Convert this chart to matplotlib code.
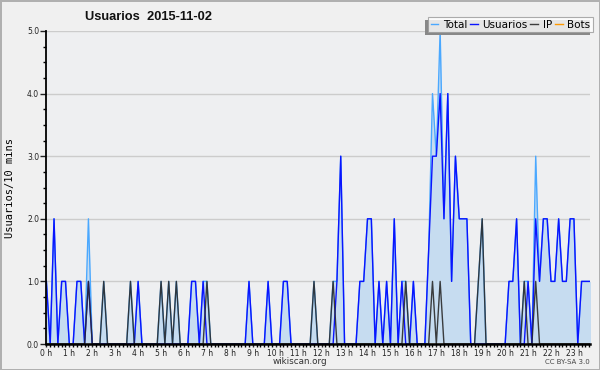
import numpy as np
import matplotlib
matplotlib.use("Agg")
import matplotlib.pyplot as plt
from matplotlib.patches import Rectangle
from matplotlib.ticker import MultipleLocator, FixedLocator

# 10-minute slots, 2015-11-02 (144 points)
usuarios = [1, 0, 2, 0, 1, 1, 0, 0, 1, 1, 0, 1, 0, 0, 0, 0, 0, 0, 0, 0, 0, 0, 0, 0,
            1, 0, 0, 0, 0, 0, 0, 0, 0, 0, 0, 0, 0, 0, 1, 1, 0, 1, 0, 0, 0, 0, 0, 0,
            0, 0, 0, 0, 0, 1, 0, 0, 0, 0, 1, 0, 0, 0, 1, 1, 0, 0, 0, 0, 0, 0, 0, 0,
            0, 0, 0, 0, 1, 3, 0, 0, 0, 0, 1, 1, 2, 2, 0, 1, 0, 1, 0, 2, 0, 1, 0, 0,
            1, 0, 0, 0, 1.5, 3, 3, 4, 2, 4, 1, 3, 2, 2, 2, 0, 0, 0, 0, 0, 0, 0, 0, 0,
            0, 1, 1, 2, 0, 0, 1, 0, 2, 1, 2, 2, 1, 1, 2, 1, 1, 2, 2, 0, 1, 1, 1, 1]
ip = [0, 0, 0, 0, 0, 0, 0, 0, 0, 0, 0, 1, 0, 0, 0, 1, 0, 0, 0, 0, 0, 0, 1, 0,
      0, 0, 0, 0, 0, 0, 1, 0, 1, 0, 1, 0, 0, 0, 0, 0, 0, 0, 1, 0, 0, 0, 0, 0,
      0, 0, 0, 0, 0, 0, 0, 0, 0, 0, 0, 0, 0, 0, 0, 0, 0, 0, 0, 0, 0, 0, 1, 0,
      0, 0, 0, 1, 0, 0, 0, 0, 0, 0, 0, 0, 0, 0, 0, 0, 0, 0, 0, 0, 0, 0, 1, 0,
      0, 0, 0, 0, 0, 1, 0, 1, 0, 0, 0, 0, 0, 0, 0, 0, 0, 1, 2, 0, 0, 0, 0, 0,
      0, 0, 0, 0, 0, 1, 0, 0, 1, 0, 0, 0, 0, 0, 0, 0, 0, 0, 0, 0, 0, 0, 0, 0]
total = [1, 0, 2, 0, 1, 1, 0, 0, 1, 1, 0, 2, 0, 0, 0, 1, 0, 0, 0, 0, 0, 0, 1, 0,
         1, 0, 0, 0, 0, 0, 1, 0, 1, 0, 1, 0, 0, 0, 1, 1, 0, 1, 1, 0, 0, 0, 0, 0,
         0, 0, 0, 0, 0, 1, 0, 0, 0, 0, 1, 0, 0, 0, 1, 1, 0, 0, 0, 0, 0, 0, 1, 0,
         0, 0, 0, 1, 1, 3, 0, 0, 0, 0, 1, 1, 2, 2, 0, 1, 0, 1, 0, 2, 0, 1, 1, 0,
         1, 0, 0, 0, 1.5, 4, 3, 5, 2, 4, 1, 3, 2, 2, 2, 0, 0, 1, 2, 0, 0, 0, 0, 0,
         0, 1, 1, 2, 0, 1, 1, 0, 3, 1, 2, 2, 1, 1, 2, 1, 1, 2, 2, 0, 1, 1, 1, 1]
bots = [0] * 144
hour_labels = [f"{h} h" for h in range(24)]
y_labels = ["0.0", "1.0", "2.0", "3.0", "4.0", "5.0"]

W, H = 600, 370
fig = plt.figure(figsize=(W / 100, H / 100), dpi=100)
fig.patch.set_facecolor("#f0f0f0")
fig.patch.set_edgecolor("#b0b0b0")
fig.patch.set_linewidth(1.0)

ax = fig.add_axes([46 / W, 1 - 344 / H, 544 / W, 313 / H])
ax.set_facecolor("#eeeff1")

x = np.arange(len(total))
ax.fill_between(x, total, color="#c6dcf0", linewidth=0, zorder=2)
ax.plot(x, bots, color="#ff9900", lw=1.0, zorder=2.5)
ax.plot(x, total, color="#4aa8ff", lw=1.0, zorder=3, label="Total")
ax.plot(x, usuarios, color="#0a14ff", lw=1.0, zorder=4, label="Usuarios")
ax.plot(x, ip, color="#2a2a2a", lw=1.0, zorder=5, alpha=0.9, label="IP")
ax.plot([], [], color="#ff9900", lw=1.0, label="Bots")

ax.set_xlim(-0.1, 142.2)
ax.set_ylim(0, 5)

ax.yaxis.set_major_locator(FixedLocator(range(len(y_labels))))
ax.set_yticklabels(y_labels)
ax.yaxis.set_minor_locator(MultipleLocator(0.25))
ax.xaxis.set_major_locator(FixedLocator([h * 6 for h in range(24)]))
ax.set_xticklabels(hour_labels)
ax.xaxis.set_minor_locator(MultipleLocator(1))

ax.tick_params(axis="y", which="major", length=4, width=1, labelsize=5.5, pad=1, colors="#222222")
ax.tick_params(axis="y", which="minor", length=2.5, width=1)
ax.tick_params(axis="x", which="major", length=2.5, width=1, labelsize=5.5, pad=0.8, colors="#222222")
ax.tick_params(axis="x", which="minor", length=2.5, width=1)

ax.grid(axis="y", color="#cccccc", lw=1, zorder=1)
ax.set_axisbelow(True)
for s in ["top", "right"]:
    ax.spines[s].set_visible(False)
ax.spines["left"].set_linewidth(1.3)
ax.spines["bottom"].set_linewidth(1.8)
ax.spines["left"].set_zorder(6)
ax.spines["bottom"].set_zorder(6)

ax.set_ylabel("Usuarios/10 mins", family="DejaVu Sans Mono", fontsize=7.5)
ax.yaxis.set_label_coords(-0.057, 0.5)

fig.text(0.142, 0.953, "Usuarios  2015-11-02", fontsize=9.3, fontweight="bold",
         family="Liberation Sans", ha="left", va="center", color="#111111")
fig.text(0.5, 1 - 362 / H, "wikiscan.org", fontsize=6.3, ha="center", va="center", color="#333333")
fig.text(590 / W, 1 - 362 / H, "CC BY-SA 3.0", fontsize=5, ha="right", va="center", color="#444444")

leg = fig.legend(loc="upper right", bbox_to_anchor=(593 / W, 1 - 17 / H), ncol=4,
                 fontsize=7.5, frameon=True, fancybox=False, handlelength=0.75,
                 handletextpad=0.45, columnspacing=0.25, borderpad=0.25,
                 borderaxespad=0, edgecolor="#999999", facecolor="white")
leg.get_frame().set_linewidth(0.8)
leg.set_zorder(10)
fig.canvas.draw()
bb = leg.get_window_extent()
shadow = Rectangle((bb.x0 - 3, bb.y0 - 3), bb.width, bb.height, transform=None,
                   facecolor="#888888", edgecolor="none", zorder=9)
fig.add_artist(shadow)

fig.savefig("out.png", dpi=100, facecolor=fig.get_facecolor(), edgecolor=fig.patch.get_edgecolor())
